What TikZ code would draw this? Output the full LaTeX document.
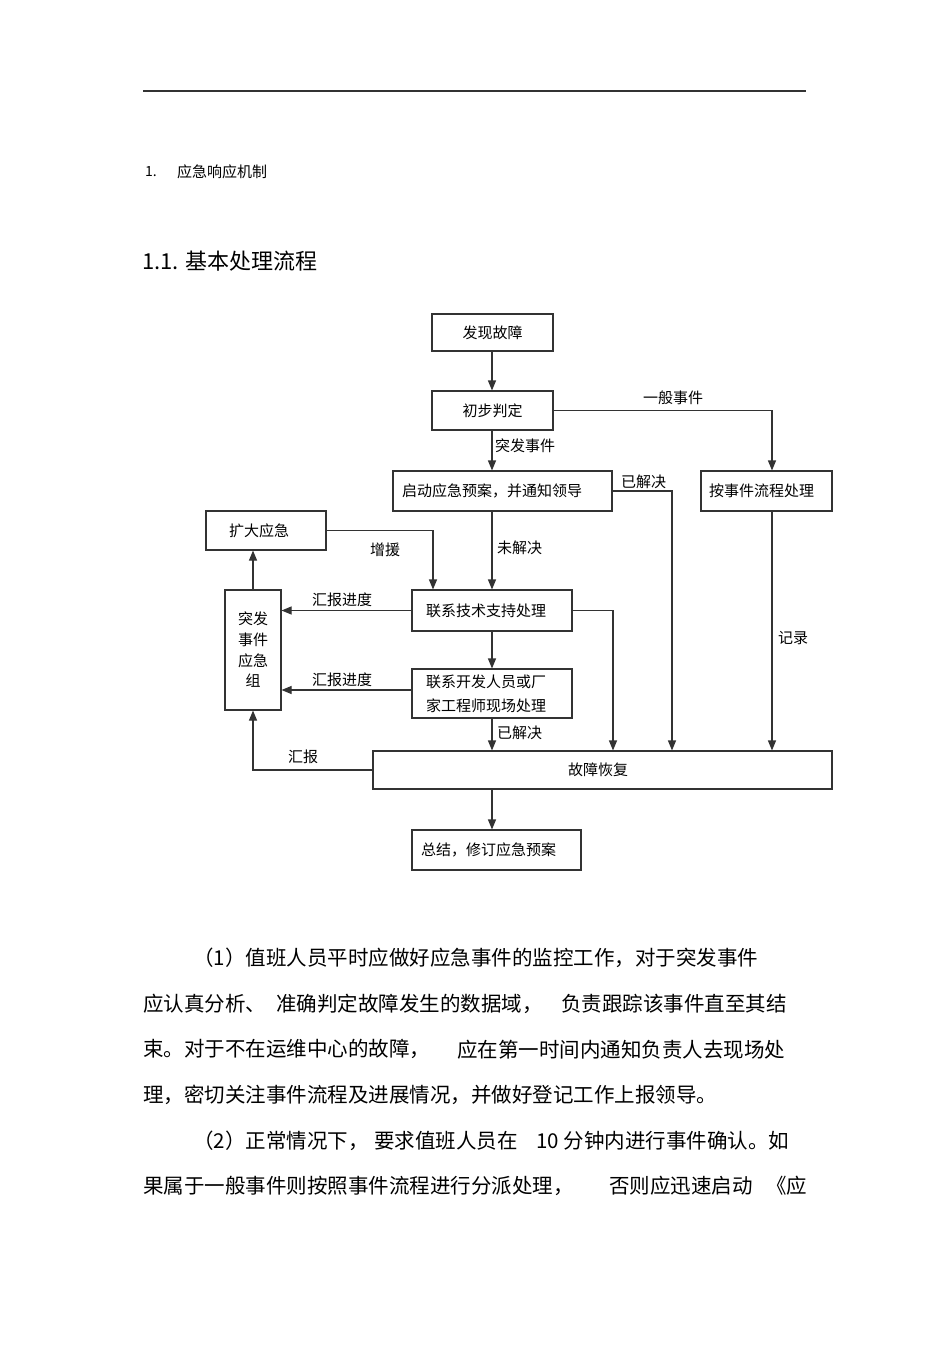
\documentclass[tikz,border=0pt]{standalone}
\usepackage{fontspec}
\setmainfont{Noto Sans CJK SC}
\usetikzlibrary{arrows.meta}
\begin{document}
\begin{tikzpicture}[x=1pt,y=-1pt,
  ln/.style={draw=black!80, line width=1.1pt},
  arr/.style={ln, -{Triangle[length=10pt,width=8pt]}},
  box/.style={ln, fill=white, inner ysep=0pt, inner xsep=0pt, font=\fontsize{15}{24}\selectfont},
  lbl/.style={anchor=west, inner sep=0pt, font=\fontsize{15}{18}\selectfont},
  body/.style={anchor=west, inner sep=0pt, font=\fontsize{20.5}{24}\selectfont}]
\useasboundingbox (0,0) rectangle (950,1345);
\fill[white] (0,0) rectangle (950,1345);

% header rule
\draw[draw=black!80, line width=1.1pt] (143,91) -- (806,91);

% headings
\node[anchor=west, inner sep=0pt, font=\fontsize{14}{16}\selectfont] (h1n) at (145,172) {1.};
\node[anchor=west, inner sep=0pt, font=\fontsize{15}{18}\selectfont] (h1t) at (177,172) {应急响应机制};
\node[anchor=west, inner sep=0pt, font=\fontsize{22}{26}\selectfont] (h2) at (142,261) {1.1. 基本处理流程};

% boxes
\node[box, minimum width=121pt, minimum height=37pt] (fx) at (492.5,332.5) {发现故障};
\node[box, minimum width=121pt, minimum height=39pt] (cb) at (492.5,410.5) {初步判定};
\node[box, minimum width=219pt, minimum height=40pt, inner xsep=9pt, text width=201pt, align=left] (qd) at (502.5,491) {启动应急预案，并通知领导};
\node[box, minimum width=131pt, minimum height=40pt, inner xsep=8pt, text width=115pt, align=left] (aj) at (766.5,491) {按事件流程处理};
\node[box, minimum width=120pt, minimum height=39pt, inner xsep=23pt, text width=74pt, align=left] (kd) at (266,530.5) {扩大应急};
\node[box, minimum width=160pt, minimum height=41pt, inner xsep=14pt, text width=132pt, align=left] (jz) at (492,610.5) {联系技术支持处理};
\node[box, minimum width=56pt, minimum height=120pt, align=center, font=\fontsize{15}{20.7}\selectfont] (zu) at (253,650) {突发\\事件\\应急\\组};
\node[box, minimum width=160pt, minimum height=49pt, inner xsep=14pt, text width=132pt, align=left] (kf) at (492,693.5) {联系开发人员或厂\\家工程师现场处理};
\node[box, minimum width=459pt, minimum height=38pt] (gz) at (602.5,770) {\hspace*{-9pt}故障恢复};
\node[box, minimum width=169pt, minimum height=40pt, inner xsep=9pt, text width=151pt, align=left] (zj) at (496.5,850) {总结，修订应急预案};

% guide coordinates (x positions of vertical connectors)
\coordinate (xM) at (492,0);
\coordinate (xA) at (772,0);
\coordinate (xB) at (672,0);
\coordinate (xJ) at (613,0);
\coordinate (xK) at (433,0);
\coordinate (xZ) at (253,0);
\coordinate (kfw) at ([yshift=3.5pt]kf.west);

% connectors
\draw[arr] (xM |- fx.south) -- (xM |- cb.north);
\draw[arr] (xM |- cb.south) -- (xM |- qd.north);
\draw[arr] (cb.east) -| (xA |- aj.north);
\draw[arr] (qd.east) -| (xB |- gz.north);
\draw[arr] (xM |- qd.south) -- (xM |- jz.north);
\draw[arr] (kd.east) -| (xK |- jz.north);
\draw[arr] (jz.west) -- (zu.east |- jz.west);
\draw[arr] (xZ |- zu.north) -- (xZ |- kd.south);
\draw[arr] (xM |- jz.south) -- (xM |- kf.north);
\draw[arr] (kfw) -- (zu.east |- kfw);
\draw[arr] (jz.east) -| (xJ |- gz.north);
\draw[arr] (xM |- kf.south) -- (xM |- gz.north);
\draw[arr] (xA |- aj.south) -- (xA |- gz.north);
\draw[arr] (gz.west) -| (xZ |- zu.south);
\draw[arr] (xM |- gz.south) -- (xM |- zj.north);

% connector labels
\node[lbl] (l1) at (495,446) {突发事件};
\node[lbl] (l2) at (643,398) {一般事件};
\node[lbl] (l3) at (621,482) {已解决};
\node[lbl] (l4) at (370,550) {增援};
\node[lbl] (l5) at (497,548) {未解决};
\node[lbl] (l6) at (312,600) {汇报进度};
\node[lbl] (l7) at (312,680) {汇报进度};
\node[lbl] (l8) at (778,638) {记录};
\node[lbl] (l9) at (497,733) {已解决};
\node[lbl] (l10) at (288,757) {汇报};

% body text
\node[body] (b1) at (193,958) {（1）值班人员平时应做好应急事件的监控工作，对于突发事件};
\node[body] (b2a) at (143,1003.6) {应认真分析、};
\node[body] (b2b) at (276,1003.6) {准确判定故障发生的数据域，};
\node[body] (b2c) at (561,1003.6) {负责跟踪该事件直至其结};
\node[body] (b3a) at (143,1049.2) {束。对于不在运维中心的故障，};
\node[body] (b3b) at (457,1049.2) {应在第一时间内通知负责人去现场处};
\node[body] (b4) at (143,1094.8) {理，密切关注事件流程及进展情况，并做好登记工作上报领导。};
\node[body] (b5a) at (193,1140.4) {（2）正常情况下，};
\node[body] (b5b) at (374,1140.4) {要求值班人员在};
\node[body] (b5c) at (536,1140.4) {10 分钟内进行事件确认。如};
\node[body] (b6a) at (143,1186) {果属于一般事件则按照事件流程进行分派处理，};
\node[body] (b6b) at (609,1186) {否则应迅速启动};
\node[body] (b6c) at (766,1186) {《应};
\end{tikzpicture}
\end{document}
